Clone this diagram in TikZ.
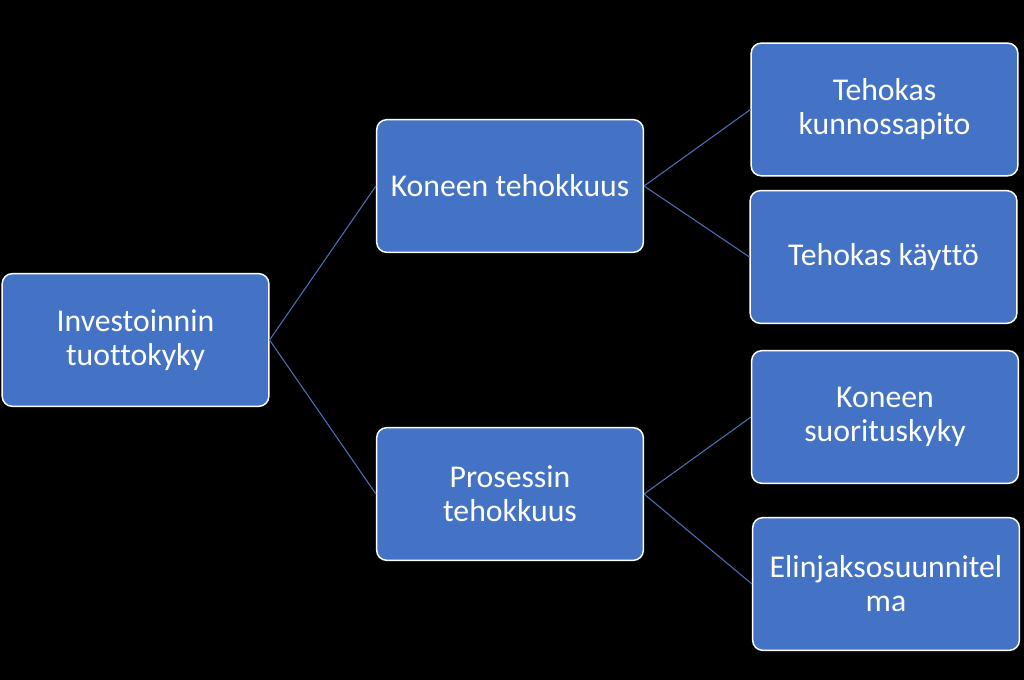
\documentclass[tikz,border=0pt]{standalone}
\usepackage{fontspec}
\setmainfont{Carlito}[Ligatures=NoCommon]
\definecolor{boxblue}{HTML}{4472C4}
\definecolor{lineblue}{HTML}{4A6FB5}

\begin{document}
\begin{tikzpicture}[x=0.75pt,y=-0.75pt,
	box/.style={draw=white, line width=1.1pt, fill=boxblue, rounded corners=7.5pt,
		minimum width=200pt, minimum height=99.5pt, inner sep=0pt, align=center,
		text=white, font=\fontsize{23.8}{25.5}\selectfont},
	link/.style={draw=lineblue, line width=0.8pt}]
	\fill[black] (0,0) rectangle (1024,680);

	\node[box](root) at (135.5,340) {Investoinnin\\tuottokyky};

	\node[box](kone) at (510,186) {Koneen tehokkuus};
	\node[box](pros) at (510,494) {Prosessin\\tehokkuus};

	\node[box](kunn) at (884.5,109.5) {Tehokas\\kunnossapito};
	\node[box](kayt) at (883.5,257) {Tehokas käyttö};
	\node[box](suor) at (885,417) {Koneen\\suorituskyky};
	\node[box](elin) at (886,584) {Elinjaksosuunnitel\\ma};

	\draw[link](root.east) -- (kone.west);
	\draw[link](root.east) -- (pros.west);
	\draw[link](kone.east) -- (kunn.west);
	\draw[link](kone.east) -- (kayt.west);
	\draw[link](pros.east) -- (suor.west);
	\draw[link](pros.east) -- (elin.west);
\end{tikzpicture}
\end{document}
